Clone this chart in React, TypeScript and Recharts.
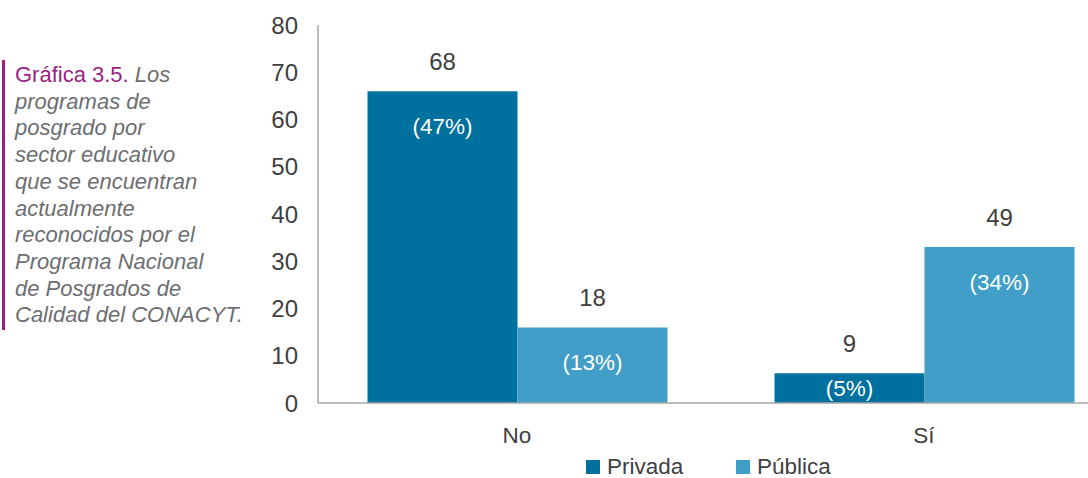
import { Bar, BarChart, LabelList, XAxis, YAxis } from "recharts";

const categories = ["No", "Sí"];
// bar heights as drawn
const privada = [66, 6.3];
const publica = [16, 33];
// numbers printed over the bars
const privadaCounts = ["68", "9"];
const publicaCounts = ["18", "49"];
const privadaPct = ["(47%)", "(5%)"];
const publicaPct = ["(13%)", "(34%)"];
const yTicks = [0, 10, 20, 30, 40, 50, 60, 70, 80];

const FONT = "'Liberation Sans', Arial, sans-serif";
const C_PRIV = "#00709e";
const C_PUB = "#409ec8";
const TEXT = "#404040";
const FS = 22.5;
const FS_NUM = 24;

const data = categories.map((c, i) => ({
  cat: c,
  privada: privada[i],
  publica: publica[i],
}));

function topLabel(texts: string[]) {
  return (p: any) => (
    <text
      x={p.x + p.width / 2}
      y={p.y - 30}
      textAnchor="middle"
      dominantBaseline="central"
      fill={TEXT}
      fontSize={FS_NUM}
      fontFamily={FONT}
    >
      {texts[p.index]}
    </text>
  );
}

function innerLabel(texts: string[]) {
  return (p: any) => (
    <text
      x={p.x + p.width / 2}
      y={p.y + Math.min(p.height / 2, 35)}
      textAnchor="middle"
      dominantBaseline="central"
      fill="#ffffff"
      fontSize={FS}
      fontFamily={FONT}
    >
      {texts[p.index]}
    </text>
  );
}

function LegendBox() {
  const item = (color: string, label: string, w: number) => (
    <div style={{ display: "flex", alignItems: "center", width: w }}>
      <div style={{ width: 14, height: 14, background: color, marginRight: 7 }} />
      <span style={{ fontSize: FS, lineHeight: "22px", color: TEXT, fontFamily: FONT, whiteSpace: "nowrap" }}>{label}</span>
    </div>
  );
  return (
    <div style={{ position: "absolute", left: 586, top: 456, display: "flex", height: 22, alignItems: "center" }}>
      {item(C_PRIV, "Privada", 150)}
      {item(C_PUB, "Pública", 130)}
    </div>
  );
}

export default function App() {
  return (
    <div style={{ position: "absolute", left: 0, top: 0, width: 1088, height: 478, background: "#fff", overflow: "hidden" }}>
      <div
        style={{
          position: "absolute",
          left: 2,
          top: 60,
          height: 270,
          borderLeft: "3px solid #9b1f82",
          paddingLeft: 10,
          width: 240,
          fontFamily: FONT,
          fontSize: 22,
          lineHeight: "26.7px",
          color: "#6d6e71",
          fontStyle: "italic",
        }}
      >
        <div style={{ marginTop: 2 }}>
          <span style={{ color: "#9b1f82", fontStyle: "normal" }}>Gráfica 3.5.</span> Los
          <br />programas de
          <br />posgrado por
          <br />sector educativo
          <br />que se encuentran
          <br />actualmente
          <br />reconocidos por el
          <br />Programa Nacional
          <br />de Posgrados de
          <br />Calidad del CONACYT.
        </div>
      </div>
      <BarChart
        width={1088}
        height={478}
        data={data}
        margin={{ top: 25, right: 0, bottom: 45, left: 0 }}
        barGap={0}
        barSize={150}
        style={{ position: "absolute", left: 0, top: 0 }}
      >
        <XAxis
          dataKey="cat"
          height={30}
          padding={{ left: -4.5, right: -39.5 }}
          tickLine={false}
          axisLine={{ stroke: "#a6a6a6", strokeWidth: 1.5 }}
          tick={{ fill: TEXT, fontSize: FS, fontFamily: FONT }}
          tickMargin={18}
        />
        <YAxis
          width={318}
          domain={[0, 80]}
          ticks={yTicks}
          interval={0}
          tickLine={false}
          axisLine={{ stroke: "#a6a6a6", strokeWidth: 1.5 }}
          tick={{ fill: TEXT, fontSize: FS_NUM, fontFamily: FONT }}
          tickMargin={14}
        />
        <Bar dataKey="privada" name="Privada" fill={C_PRIV} isAnimationActive={false}>
          <LabelList dataKey="privada" content={topLabel(privadaCounts)} />
          <LabelList dataKey="privada" content={innerLabel(privadaPct)} />
        </Bar>
        <Bar dataKey="publica" name="Pública" fill={C_PUB} isAnimationActive={false}>
          <LabelList dataKey="publica" content={topLabel(publicaCounts)} />
          <LabelList dataKey="publica" content={innerLabel(publicaPct)} />
        </Bar>
      </BarChart>
      <LegendBox />
    </div>
  );
}
